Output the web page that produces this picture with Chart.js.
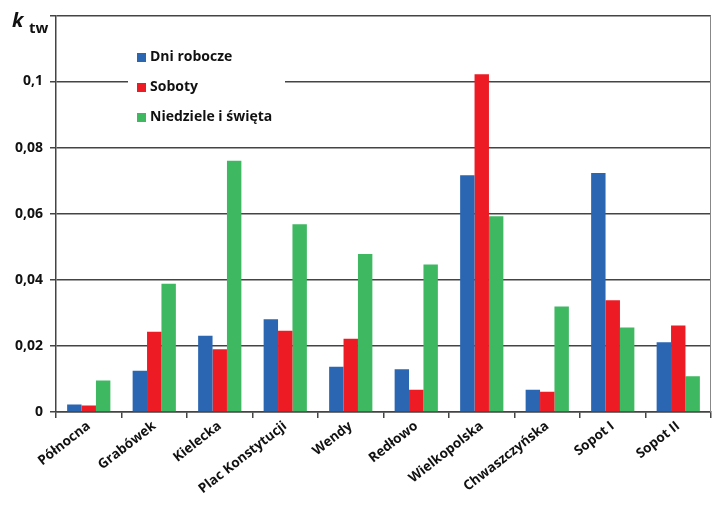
<!DOCTYPE html>
<html>
<head>
<meta charset="utf-8">
<script src="https://cdn.jsdelivr.net/npm/chart.js@4.4.1/dist/chart.umd.min.js"></script>
<style>
  html, body { margin: 0; padding: 0; background: #fff; }
  #wrap { width: 717px; height: 505px; position: relative; }
</style>
</head>
<body>
<div id="wrap"><canvas id="ktwChart" width="717" height="505"></canvas></div>
<script>
// dane
const stations = ['Północna', 'Grabówek', 'Kielecka', 'Plac Konstytucji', 'Wendy', 'Redłowo', 'Wielkopolska', 'Chwaszczyńska', 'Sopot I', 'Sopot II'];
const dniRobocze = [0.0023, 0.0125, 0.0231, 0.0281, 0.0137, 0.0129, 0.0716, 0.0067, 0.0723, 0.0211];
const soboty = [0.0020, 0.0243, 0.0190, 0.0246, 0.0222, 0.0067, 0.1022, 0.0061, 0.0338, 0.0262];
const niedziele = [0.0095, 0.0388, 0.0760, 0.0568, 0.0478, 0.0446, 0.0592, 0.0319, 0.0256, 0.0108];
const seriesNames = ['Dni robocze', 'Soboty', 'Niedziele i święta'];
const seriesColors = ['#2a66b1', '#ed1c24', '#3fb862'];
const yTicks = [0, 0.02, 0.04, 0.06, 0.08, 0.1, 0.12];

const FONT = "'Open Sans', 'DejaVu Sans', sans-serif";

// legenda w polu wykresu + oznaczenie osi k_tw
const legendBox = {
    id: 'legendBox',
    afterDatasetsDraw(chart) {
        const ctx = chart.ctx;
        ctx.save();
        ctx.fillStyle = '#fff';
        ctx.fillRect(128, 38, 157, 92);
        ctx.font = 'bold 14px ' + FONT;
        ctx.textBaseline = 'middle';
        const rows = [57, 87, 117];
        seriesNames.forEach((name, i) => {
            ctx.fillStyle = seriesColors[i];
            ctx.fillRect(137, rows[i] - 4, 9, 9);
            ctx.fillStyle = '#111';
            ctx.fillText(name, 150, rows[i]);
        });
        ctx.textBaseline = 'alphabetic';
        ctx.font = 'italic bold 20px ' + FONT;
        ctx.fillText('k', 12, 27);
        ctx.font = 'bold 15px ' + FONT;
        ctx.fillText('tw', 29, 33);
        // prawa krawędź
        const a = chart.chartArea;
        ctx.strokeStyle = '#888';
        ctx.lineWidth = 1;
        ctx.beginPath();
        ctx.moveTo(a.right - 0.5, a.top);
        ctx.lineTo(a.right - 0.5, a.bottom);
        ctx.stroke();
        ctx.restore();
    }
};

new Chart(document.getElementById('ktwChart'), {
    type: 'bar',
    data: {
        labels: stations,
        datasets: [
            { label: seriesNames[0], data: dniRobocze, backgroundColor: seriesColors[0] },
            { label: seriesNames[1], data: soboty, backgroundColor: seriesColors[1] },
            { label: seriesNames[2], data: niedziele, backgroundColor: seriesColors[2] }
        ]
    },
    options: {
        responsive: false,
        animation: false,
        layout: { padding: { top: 10, right: 6, left: 0, bottom: 0 } },
        datasets: { bar: { categoryPercentage: 0.66, barPercentage: 1.0 } },
        plugins: { legend: { display: false }, tooltip: { enabled: false } },
        scales: {
            x: {
                grid: { display: true, drawOnChartArea: false, drawTicks: true, tickLength: 6, color: '#444', lineWidth: 1.5 },
                border: { display: true, color: '#444', width: 1.5 },
                ticks: {
                    color: '#111', minRotation: 38, maxRotation: 38, padding: 0,
                    font: { family: FONT, size: 13.5, weight: 'bold' }
                },
                afterFit(scale) { scale.height = 93; }
            },
            y: {
                min: 0, max: 0.12,
                afterBuildTicks(scale) { scale.ticks = yTicks.map(v => ({ value: v })); },
                grid: { color: '#444', lineWidth: 1.5, drawTicks: true, tickLength: 6 },
                border: { display: true, color: '#444', width: 1.5 },
                ticks: {
                    color: '#111', padding: 7,
                    font: { family: FONT, size: 14, weight: 'bold' },
                    callback: (v) => v >= 0.12 ? '' : String(Math.round(v * 100) / 100).replace('.', ',')
                },
                afterFit(scale) { scale.width = 56; }
            }
        }
    },
    plugins: [legendBox]
});
</script>
</body>
</html>
